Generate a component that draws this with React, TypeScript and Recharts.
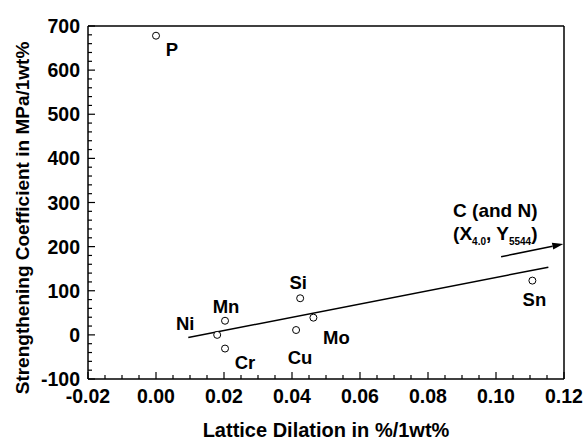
import React from 'react';
import { ScatterChart, Scatter, XAxis, YAxis, ReferenceLine } from 'recharts';

const elements = ['P', 'Ni', 'Mn', 'Cr', 'Cu', 'Si', 'Mo', 'Sn'];
const dilation = [0.0, 0.018, 0.0203, 0.0203, 0.0412, 0.0424, 0.0463, 0.1107];
const coefficient = [678, 0, 32, -31, 11, 83, 39, 123];

const fitX = [0.0095, 0.1154];
const fitY = [-6, 153.5];
const arrowX = [0.1015, 0.1198];
const arrowY = [177, 206];

const xMajorTicks = [-0.02, 0, 0.02, 0.04, 0.06, 0.08, 0.1, 0.12];
const xMinorTicks = [-0.015, -0.01, -0.005, 0.005, 0.01, 0.015, 0.025, 0.03, 0.035, 0.045, 0.05, 0.055, 0.065, 0.07, 0.075, 0.085, 0.09, 0.095, 0.105, 0.11, 0.115];
const yMajorTicks = [-100, 0, 100, 200, 300, 400, 500, 600, 700];
const yMinorTicks = [-80, -60, -40, -20, 20, 40, 60, 80, 120, 140, 160, 180, 220, 240, 260, 280, 320, 340, 360, 380, 420, 440, 460, 480, 520, 540, 560, 580, 620, 640, 660, 680];

const xTitle = 'Lattice Dilation in %/1wt%';
const yTitle = 'Strengthening Coefficient in MPa/1wt%';

// label placement (pixel offsets of label centre from its point)
const labelOffsets: Record<string, [number, number]> = {
  P: [16, 14],
  Ni: [-32, -11],
  Mn: [1, -14],
  Cr: [20, 14],
  Cu: [4, 27],
  Si: [-2, -16],
  Mo: [23, 20],
  Sn: [2, 19],
};

const FONT = '"Liberation Sans", Arial, sans-serif';

const scatterData = elements.map((name, i) => ({ name, x: dilation[i], y: coefficient[i] }));
const xTicks = [...xMajorTicks, ...xMinorTicks].sort((a, b) => a - b);
const yTicks = [...yMajorTicks, ...yMinorTicks].sort((a, b) => a - b);

const isIn = (arr: number[], v: number) => arr.some((a) => Math.abs(a - v) < 1e-9);

const XTick = (props: any) => {
  const { x, y, payload } = props;
  const v = payload.value;
  const major = isIn(xMajorTicks, v);
  return (
    <g>
      <line x1={x} x2={x} y1={y} y2={y - (major ? 7 : 4)} stroke="#000" strokeWidth={1.2} />
      {major && (
        <text x={x} y={y + 24} textAnchor="middle" fontFamily={FONT} fontWeight="bold" fontSize={19.5} fill="#000">
          {v.toFixed(2)}
        </text>
      )}
    </g>
  );
};

const YTick = (props: any) => {
  const { x, y, payload } = props;
  const v = payload.value;
  const major = isIn(yMajorTicks, v);
  return (
    <g>
      <line x1={x} x2={x + (major ? 7 : 4)} y1={y} y2={y} stroke="#000" strokeWidth={1.2} />
      {major && (
        <text x={x - 8} y={y + 7} textAnchor="end" fontFamily={FONT} fontWeight="bold" fontSize={19.5} fill="#000">
          {String(v)}
        </text>
      )}
    </g>
  );
};

const PointShape = (props: any) => {
  const { cx, cy, payload } = props;
  const off = labelOffsets[payload.name] || [0, 0];
  return (
    <g>
      <circle cx={cx} cy={cy} r={3.5} fill="#fff" stroke="#000" strokeWidth={1} />
      <text x={cx + off[0]} y={cy + off[1] + 6.5} textAnchor="middle" fontFamily={FONT} fontWeight="bold" fontSize={18.5} fill="#000">
        {payload.name}
      </text>
    </g>
  );
};

const ArrowShape = (props: any) => {
  const { x1, y1, x2, y2 } = props;
  const ang = Math.atan2(y2 - y1, x2 - x1);
  const len = 11;
  const hw = 3.5;
  const bx = x2 - len * Math.cos(ang);
  const by = y2 - len * Math.sin(ang);
  const px = -Math.sin(ang) * hw;
  const py = Math.cos(ang) * hw;
  return (
    <g>
      <line x1={x1} y1={y1} x2={bx} y2={by} stroke="#000" strokeWidth={1.5} />
      <polygon points={`${x2},${y2} ${bx + px},${by + py} ${bx - px},${by - py}`} fill="#000" />
      <text x={x1 - 48} y={y1 - 40} fontFamily={FONT} fontWeight="bold" fontSize={19} fill="#000">
        C (and N)
      </text>
      <text x={x1 - 48} y={y1 - 17} fontFamily={FONT} fontWeight="bold" fontSize={19} fill="#000">
        <tspan>(X</tspan>
        <tspan fontSize={10} dy={5}>4.0</tspan>
        <tspan dy={-5}>, Y</tspan>
        <tspan fontSize={10} dy={5}>5544</tspan>
        <tspan dy={-5}>)</tspan>
      </text>
    </g>
  );
};

const XTitle = (props: any) => {
  const vb = props.viewBox;
  return (
    <text x={vb.x + vb.width / 2} y={437} textAnchor="middle" fontFamily={FONT} fontWeight="bold" fontSize={20} fill="#000">
      {xTitle}
    </text>
  );
};

const YTitle = () => (
  <text x={29} y={218} transform="rotate(-90, 29, 218)" textAnchor="middle" fontFamily={FONT} fontWeight="bold" fontSize={19} fill="#000">
    {yTitle}
  </text>
);

export default function App() {
  return (
    <div style={{ position: 'absolute', left: 0, top: 0, background: '#fff' }}>
      <ScatterChart width={586} height={441} margin={{ top: 26, right: 22, bottom: 0, left: 8 }}>
        <XAxis
          type="number"
          dataKey="x"
          domain={[-0.02, 0.12]}
          ticks={xTicks}
          interval={0}
          tickSize={0}
          tickMargin={0}
          tickLine={false}
          tick={<XTick />}
          height={62}
          axisLine={{ stroke: '#000', strokeWidth: 1.5 }}
          label={{ content: <XTitle /> }}
          allowDataOverflow
        />
        <YAxis
          type="number"
          dataKey="y"
          domain={[-100, 700]}
          ticks={yTicks}
          interval={0}
          tickSize={0}
          tickMargin={0}
          tickLine={false}
          tick={<YTick />}
          width={80}
          axisLine={{ stroke: '#000', strokeWidth: 1.5 }}
          label={{ content: <YTitle /> }}
          allowDataOverflow
        />
        <ReferenceLine y={700} stroke="#000" strokeWidth={1.5} ifOverflow="visible" />
        <ReferenceLine x={0.12} stroke="#000" strokeWidth={1.5} ifOverflow="visible" />
        <ReferenceLine
          segment={[{ x: fitX[0], y: fitY[0] }, { x: fitX[1], y: fitY[1] }]}
          stroke="#000"
          strokeWidth={1.5}
          ifOverflow="visible"
        />
        <ReferenceLine
          segment={[{ x: arrowX[0], y: arrowY[0] }, { x: arrowX[1], y: arrowY[1] }]}
          ifOverflow="visible"
          shape={(p: any) => <ArrowShape {...p} />}
        />
        <Scatter data={scatterData} isAnimationActive={false} shape={(p: any) => <PointShape {...p} />} />
      </ScatterChart>
    </div>
  );
}
